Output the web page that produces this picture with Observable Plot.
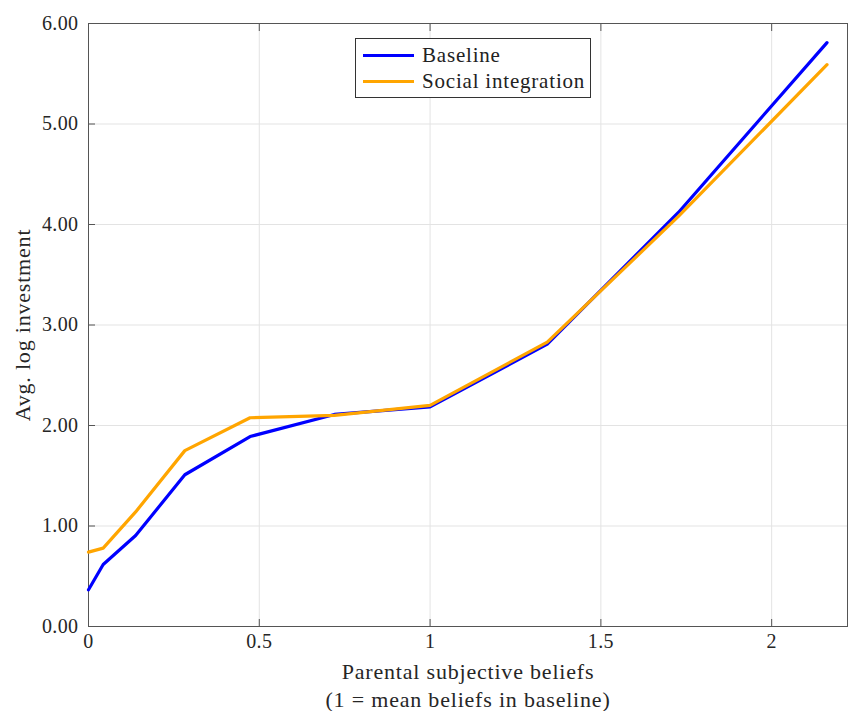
<!DOCTYPE html>
<html>
<head>
<meta charset="utf-8">
<script src="https://cdn.jsdelivr.net/npm/d3@7"></script>
<script src="https://cdn.jsdelivr.net/npm/@observablehq/plot@0.6"></script>
<style>
  html, body { margin: 0; padding: 0; background: #fff; }
  #wrap { position: relative; width: 848px; height: 711px; }
  #wrap svg g[aria-label="text"] text { letter-spacing: 0.8px; }
  #wrap svg g[aria-label$="tick label"] text { letter-spacing: 0.4px; }
  #legend {
    position: absolute; left: 355px; top: 38px; width: 234px; height: 58px;
    border: 1px solid #333; background: #fff;
    font-family: "Liberation Serif", serif; font-size: 21px; letter-spacing: 0.8px; color: #222;
  }
  .item { position: absolute; left: 7px; height: 26px; display: flex; align-items: center; }
  .sw { width: 51px; height: 0; border-top: 3px solid; margin-right: 8px; }
</style>
</head>
<body>
<div id="wrap"></div>
<script>
// ---- data ----
const beliefs = [0, 0.043, 0.138, 0.282, 0.473, 0.72, 1.0, 1.343, 1.727, 2.162];
const baseline = [0.365, 0.617, 0.905, 1.51, 1.89, 2.11, 2.185, 2.81, 4.12, 5.81];
const socialIntegration = [0.74, 0.78, 1.14, 1.75, 2.077, 2.10, 2.20, 2.83, 4.08, 5.59];
const seriesNames = ["Baseline", "Social integration"];
const seriesColors = ["#0000ff", "#ffa500"];
const xTicks = [0, 0.5, 1, 1.5, 2];
const yTicks = [0, 1, 2, 3, 4, 5, 6];
const xLabel = "Parental subjective beliefs\n(1 = mean beliefs in baseline)";
const yLabel = "Avg. log investment";

const rows = [];
beliefs.forEach((b, i) => {
  rows.push({series: seriesNames[0], x: b, y: baseline[i]});
  rows.push({series: seriesNames[1], x: b, y: socialIntegration[i]});
});

const font = "Liberation Serif, serif";
const axisColor = "#555";

const chart = Plot.plot({
  width: 848,
  height: 711,
  marginLeft: 88,
  marginTop: 23,
  marginRight: 1,
  marginBottom: 85,
  style: {fontFamily: font, fontSize: "20px", color: "#262626", background: "#fff"},
  x: {domain: [0, 2.222]},
  y: {domain: [0, 6]},
  color: {domain: seriesNames, range: seriesColors},
  marks: [
    Plot.gridX(xTicks, {stroke: "#e3e3e3", strokeOpacity: 1}),
    Plot.gridY(yTicks, {stroke: "#e3e3e3", strokeOpacity: 1}),
    Plot.axisX({ticks: xTicks, tickSize: -7, tickPadding: 14, stroke: axisColor,
      tickFormat: d => String(d), fontSize: 20, label: null}),
    Plot.axisX({anchor: "top", ticks: xTicks, tickSize: -7, stroke: axisColor,
      tickFormat: () => "", label: null}),
    Plot.axisY({ticks: yTicks, tickSize: -7, tickPadding: 17, stroke: axisColor,
      tickFormat: d3.format(".2f"), fontSize: 20, label: null}),
    Plot.frame({stroke: axisColor}),
    Plot.text([xLabel], {frameAnchor: "bottom", lineAnchor: "top", dy: 33,
      lineHeight: 1.27, fontSize: 22, fill: "#262626"}),
    Plot.text([yLabel], {frameAnchor: "left", rotate: -90, dx: -66, textAnchor: "middle",
      lineAnchor: "middle", fontSize: 22, fill: "#262626"}),
    Plot.line(rows, {x: "x", y: "y", stroke: "series", z: "series", strokeWidth: 3.2, strokeLinejoin: "round"})
  ]
});

const wrap = document.getElementById("wrap");
wrap.appendChild(chart);

const legend = document.createElement("div");
legend.id = "legend";
seriesNames.forEach((name, i) => {
  const item = document.createElement("div");
  item.className = "item";
  item.style.top = (3 + i * 26) + "px";
  const sw = document.createElement("div");
  sw.className = "sw";
  sw.style.borderTopColor = seriesColors[i];
  const t = document.createElement("span");
  t.textContent = name;
  item.appendChild(sw);
  item.appendChild(t);
  legend.appendChild(item);
});
wrap.appendChild(legend);
</script>
</body>
</html>
